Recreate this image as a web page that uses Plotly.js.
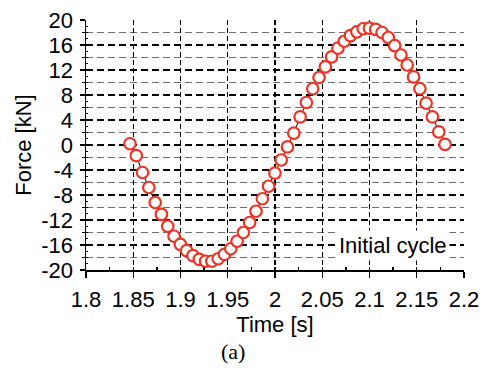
<!DOCTYPE html>
<html>
<head>
<meta charset="utf-8">
<script src="https://cdn.plot.ly/plotly-3.0.1.min.js"></script>
<style>html,body{margin:0;padding:0;background:#fff;}#chart{width:487px;height:369px;}</style>
</head>
<body>
<div id="chart"></div>
<script>
// Time [s] of each sample
const timeS = [1.8465,1.8532,1.8598,1.8665,1.8732,1.8798,1.8865,1.8932,1.8999,1.9065,
  1.9132,1.9199,1.9265,1.9332,1.9399,1.9465,1.9532,1.9599,1.9665,1.9732,
  1.9799,1.9866,1.9932,1.9999,2.0066,2.0132,2.0199,2.0266,2.0332,2.0399,
  2.0466,2.0533,2.0599,2.0666,2.0733,2.0799,2.0866,2.0933,2.0999,2.1066,
  2.1133,2.1199,2.1266,2.1333,2.1399,2.1466,2.1533,2.1599,2.1666,2.1733,2.1799];
// Force [kN]
const forceKN = [0.2,-1.7,-4.4,-6.8,-9.2,-11.1,-13.0,-14.6,-15.9,-16.9,
  -17.7,-18.3,-18.6,-18.6,-18.2,-17.5,-16.6,-15.4,-14.0,-12.4,
  -10.6,-8.6,-6.6,-4.5,-2.4,-0.3,1.9,4.5,6.8,9.0,
  10.8,12.5,14.1,15.5,16.6,17.5,18.1,18.6,18.7,18.5,
  18.0,17.2,15.9,14.4,12.8,10.9,9.0,6.7,4.5,2.1,0.1];
const xTickVals = [1.8,1.85,1.9,1.95,2,2.05,2.1,2.15,2.2];
const xTickText = ["1.8","1.85","1.9","1.95","2","2.05","2.1","2.15","2.2"];
const yTickVals = [-20,-16,-12,-8,-4,0,4,8,12,16,20];
const yTickText = ["-20","-16","-12","-8","-4","0","4","8","12","16","20"];
const xTitle = "Time [s]";
const yTitle = "Force [kN]";
const noteText = "Initial cycle";
const noteX = 2.1245, noteY = -16;
const panelLabel = "(a)";

const font = {family: "Liberation Sans, Arial, sans-serif", size: 22, color: "#000"};
const xRange = [1.8, 2.2], yRange = [-20, 20];

const traces = [
  {x: timeS, y: forceKN, type: "scatter", mode: "lines+markers",
   line: {color: "#000", width: 1},
   marker: {symbol: "circle", size: 11.5, color: "#fff", line: {color: "rgb(240,50,35)", width: 2.2}},
   hoverinfo: "skip", showlegend: false},
  {x: [], y: [], xaxis: "x2", yaxis: "y", type: "scatter", mode: "markers", showlegend: false, hoverinfo: "skip"},
  {x: [], y: [], xaxis: "x", yaxis: "y2", type: "scatter", mode: "markers", showlegend: false, hoverinfo: "skip"}
];

const layout = {
  width: 487, height: 369,
  margin: {l: 86, r: 23, t: 20, b: 99},
  paper_bgcolor: "#fff", plot_bgcolor: "#fff",
  font: font,
  showlegend: false,
  xaxis: {
    range: xRange, tickmode: "array", tickvals: xTickVals, ticktext: xTickText,
    ticks: "outside", ticklen: 6, tickwidth: 1.3, tickcolor: "#000",
    showline: true, linecolor: "#000", linewidth: 1.5,
    showgrid: true, gridcolor: "#000", gridwidth: 1.1, griddash: "5px,3px",
    zeroline: false, tickfont: font, ticklabelstandoff: 3,
    title: {text: xTitle, font: font, standoff: 1}
  },
  xaxis2: {
    overlaying: "x", anchor: "y", side: "bottom", range: xRange,
    tickmode: "array", tickvals: xTickVals,
    ticks: "inside", ticklen: 3, tickwidth: 1.3, tickcolor: "#000",
    showticklabels: false, showgrid: false, zeroline: false, showline: false,
    minor: {tickmode: "linear", tick0: 1.8, dtick: 0.025, ticks: "inside", ticklen: 3, tickwidth: 1.3, tickcolor: "#000", showgrid: false}
  },
  yaxis: {
    range: yRange, tickmode: "array", tickvals: yTickVals, ticktext: yTickText,
    ticks: "outside", ticklen: 5, tickwidth: 1.3, tickcolor: "#000",
    showline: true, linecolor: "#000", linewidth: 1.5,
    showgrid: true, gridcolor: "#000", gridwidth: 1.1, griddash: "7px,4px",
    zeroline: false, tickfont: font, ticklabelstandoff: 2,
    minor: {tickmode: "linear", tick0: -20, dtick: 2, ticks: "outside", ticklen: 3, tickwidth: 1, tickcolor: "#000",
            showgrid: true, gridcolor: "#6e6e6e", gridwidth: 1.1, griddash: "7px,4px"},
    title: {text: yTitle, font: font, standoff: 3}
  },
  yaxis2: {
    overlaying: "y", anchor: "x", side: "left", range: yRange,
    tickmode: "array", tickvals: yTickVals,
    ticks: "inside", ticklen: 3, tickwidth: 1.3, tickcolor: "#000",
    showticklabels: false, showgrid: false, zeroline: false, showline: false,
    minor: {tickmode: "linear", tick0: -20, dtick: 1, ticks: "inside", ticklen: 2, tickwidth: 1, tickcolor: "#000", showgrid: false}
  },
  annotations: [
    {x: noteX, y: noteY, xref: "x", yref: "y", text: noteText, showarrow: false,
     font: font, bgcolor: "#fff", borderpad: 2, xanchor: "center", yanchor: "middle"},
    {x: 0.389, y: -0.325, xref: "paper", yref: "paper", text: panelLabel, showarrow: false,
     font: {family: "Liberation Serif, Times New Roman, serif", size: 22, color: "#000"},
     xanchor: "center", yanchor: "middle"}
  ]
};

Plotly.newPlot("chart", traces, layout, {displayModeBar: false, staticPlot: true});
</script>
</body>
</html>
